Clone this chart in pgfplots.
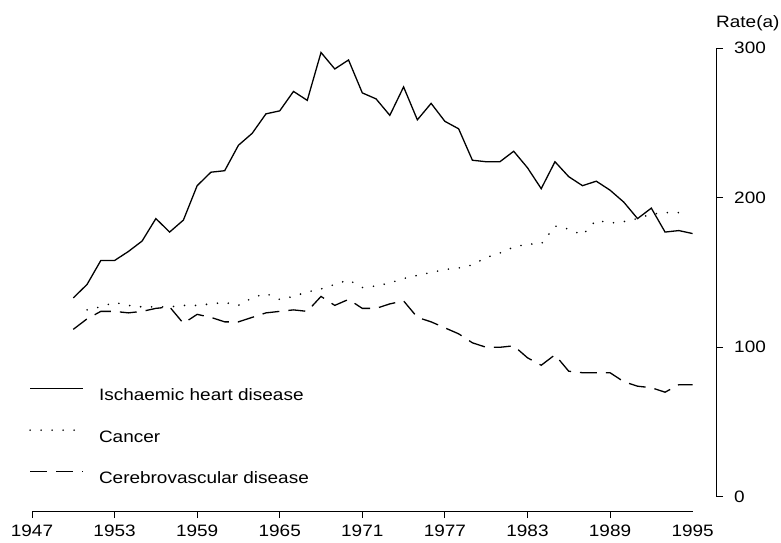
\documentclass[border=0pt]{standalone}
\usepackage{fontspec}
\setmainfont{Liberation Sans}[FakeStretch=1.15]
\usepackage{pgfplots}
\pgfplotsset{compat=1.18}
\begin{document}
\begin{tikzpicture}[font=\fontsize{16.5}{19}\selectfont]
\path[use as bounding box] (-32pt,-31pt) rectangle (749pt,511pt);
\begin{axis}[
  width=684pt, height=463pt, scale only axis,
  xmin=1947, xmax=1996.7, ymin=-9.4, ymax=300,
  axis x line*=bottom, axis y line*=right,
  x axis line style={draw=none}, y axis line style={draw=none},
  xtick={1947,1953,...,1989}, extra x ticks={1995},
  extra x tick style={tick style={draw=none}},
  ytick={0,100,200,300},
  tick align=outside, major tick length=7pt,
  tick style={black, line width=0.9pt},
  /pgf/number format/assume math mode=true,
  /pgf/number format/1000 sep={},
  xticklabel style={inner sep=0pt, yshift=-7pt},
  yticklabel style={inner sep=0pt, anchor=west, xshift=11pt},
  clip=false,
  legend cell align=left,
  legend style={at={(axis description cs:0,0)}, anchor=south west, xshift=-3pt, yshift=27pt,
    draw=none, fill=none, inner sep=0pt, row sep=29pt, column sep=15pt,
    nodes={inner sep=0pt, text height=12pt, text depth=0pt}},
  legend image code/.code={\draw[#1] (0pt,6pt) -- (53pt,6pt);},
]
\draw[line width=0.9pt] (axis cs:1947,-9.4) -- (axis cs:1995,-9.4);
\draw[line width=0.9pt] (axis cs:1996.7,0) -- (axis cs:1996.7,300);
\node[anchor=base west, inner sep=0pt] at ([yshift=20pt]axis cs:1996.7,300) {Rate(a)};

\addplot[black, line width=1.3pt] coordinates {
(1950,133) (1951,142) (1952,158) (1953,158) (1954,164) (1955,171) (1956,186) (1957,177)
(1958,185) (1959,208) (1960,217) (1961,218) (1962,235) (1963,243) (1964,256) (1965,258)
(1966,271) (1967,265) (1968,297) (1969,286) (1970,292) (1971,270) (1972,266) (1973,255)
(1974,274) (1975,252) (1976,263) (1977,251) (1978,246) (1979,225) (1980,224) (1981,224)
(1982,231) (1983,220) (1984,206) (1985,224) (1986,214) (1987,208) (1988,211) (1989,205)
(1990,197) (1991,186) (1992,193) (1993,177) (1994,178) (1995,176)};
\addlegendentry{Ischaemic heart disease}

\addplot[black, line width=1.8pt, line cap=round, dash pattern=on 0pt off 11pt] coordinates {
(1951,125) (1952,127) (1953,130) (1954,128) (1955,127) (1956,127) (1957,127)
(1958,128) (1959,128) (1960,129) (1961,130) (1962,128) (1963,133) (1964,136) (1965,132)
(1966,134) (1967,137) (1968,139) (1969,142) (1970,145) (1971,140) (1972,141) (1973,143)
(1974,146) (1975,148) (1976,150) (1977,152) (1978,153) (1979,155) (1980,160) (1981,163)
(1982,167) (1983,169) (1984,169) (1985,181) (1986,179) (1987,175) (1988,185) (1989,183)
(1990,184) (1991,186) (1992,189) (1993,190) (1994,190)};
\addlegendentry{Cancer}

\addplot[black, line width=1.3pt, dash pattern=on 17pt off 9pt] coordinates {
(1950,112) (1951,119) (1952,124) (1953,124) (1954,123) (1955,124) (1956,126) (1957,127)
(1958,116) (1959,122) (1960,120) (1961,117) (1962,117) (1963,120) (1964,123) (1965,124)
(1966,125) (1967,124) (1968,134) (1969,128) (1970,132) (1971,126) (1972,126) (1973,129)
(1974,131) (1975,120) (1976,117) (1977,113) (1978,109) (1979,103) (1980,100) (1981,100)
(1982,101) (1983,93) (1984,88) (1985,95) (1986,84) (1987,83) (1988,83) (1989,83)
(1990,77) (1991,74) (1992,73) (1993,70) (1994,75) (1995,75)};
\addlegendentry{Cerebrovascular disease}
\end{axis}
\end{tikzpicture}
\end{document}
